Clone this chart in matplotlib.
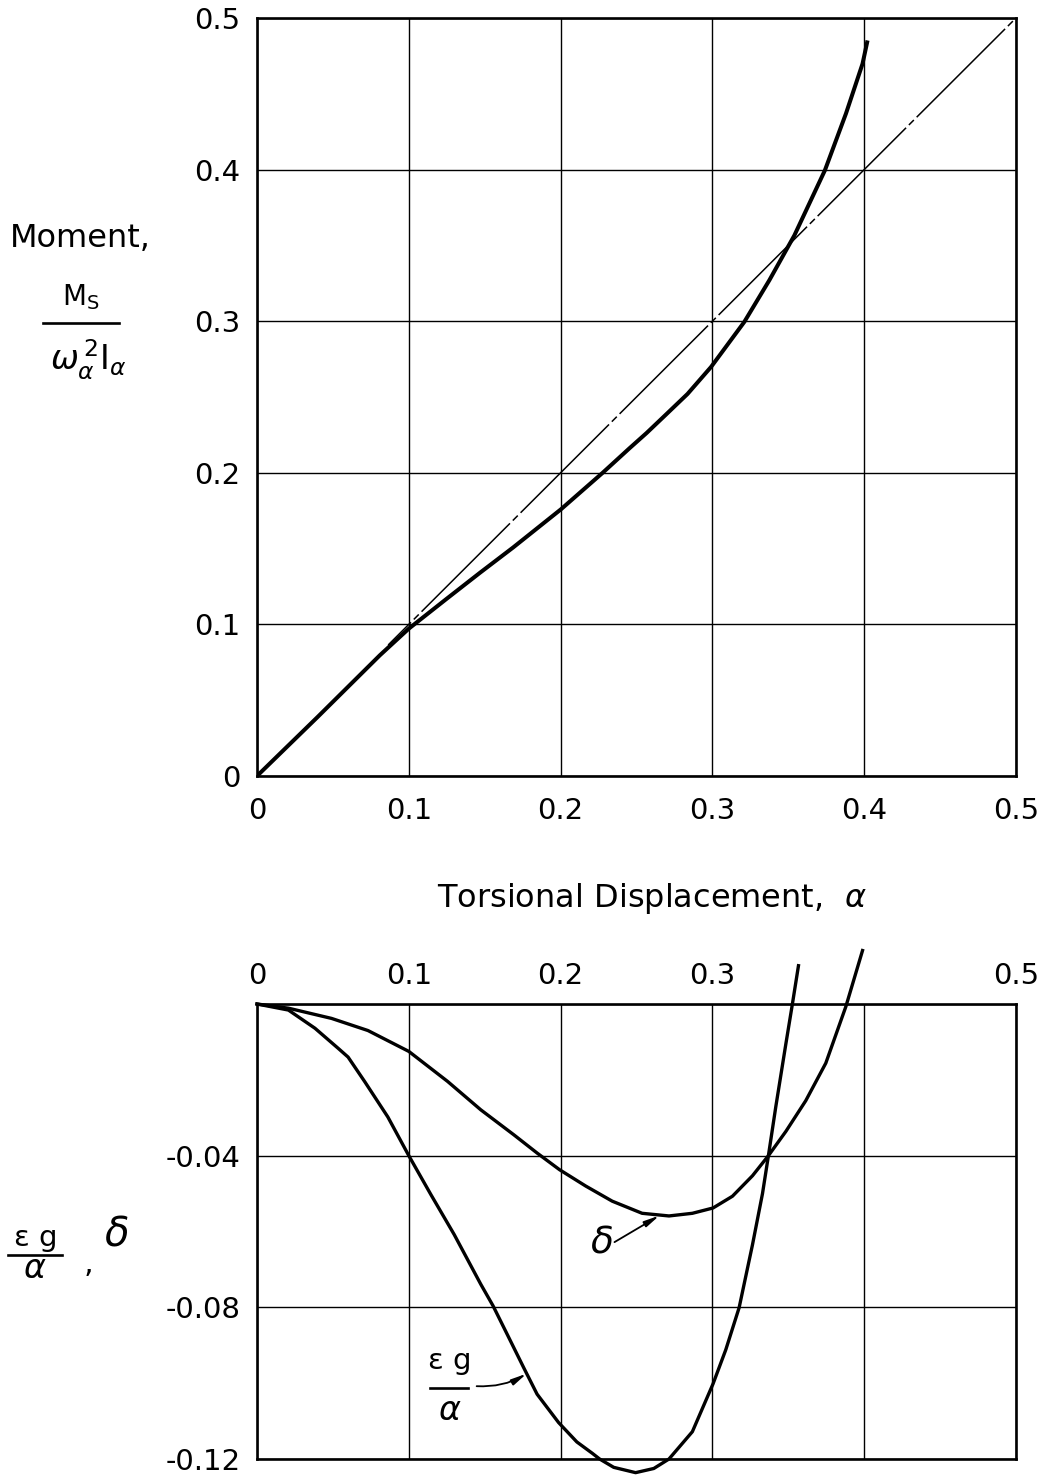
import matplotlib
matplotlib.use('Agg')
import matplotlib.pyplot as plt
from matplotlib.lines import Line2D

plt.rcParams['font.family'] = ['DejaVu Sans']
plt.rcParams['mathtext.fontset'] = 'dejavusans'

# ---------------- data ----------------
moment_x = [0.0, 0.04, 0.0809, 0.1, 0.1248, 0.1468, 0.1688, 0.2002, 0.2277,
            0.2454, 0.2567, 0.2695, 0.2836, 0.2991, 0.321, 0.3375, 0.354,
            0.3741, 0.388, 0.3989, 0.4022]
moment_y = [0.0, 0.039, 0.0796, 0.0972, 0.1168, 0.134, 0.1508, 0.1759, 0.2,
            0.2162, 0.2263, 0.2385, 0.252, 0.2698, 0.2995, 0.327, 0.3566,
            0.3995, 0.437, 0.4698, 0.4852]
linear_x = [0.0864, 0.5]
linear_y = [0.0864, 0.5]

delta_x = [0.0, 0.0207, 0.0491, 0.0731, 0.1, 0.1255, 0.1474, 0.1692, 0.1845,
           0.1993, 0.2165, 0.234, 0.2537, 0.2714, 0.2868, 0.3004, 0.3132,
           0.3264, 0.3369, 0.3484, 0.3615, 0.3747, 0.3879, 0.3989]
delta_y = [0.0, -0.0011, -0.0038, -0.007, -0.0125, -0.0204, -0.0279, -0.0345,
           -0.0393, -0.0437, -0.048, -0.052, -0.0552, -0.0559, -0.0552, -0.0538,
           -0.0507, -0.0453, -0.04, -0.0336, -0.0255, -0.0156, -0.0007, 0.0141]

eg_x = [0.0, 0.0207, 0.0382, 0.0535, 0.060, 0.071, 0.0862, 0.1, 0.1146,
        0.1299, 0.1474, 0.1555, 0.1648, 0.1758, 0.1845, 0.1987, 0.2107,
        0.2209, 0.2257, 0.235, 0.2494, 0.2614, 0.2714, 0.2868, 0.3004,
        0.3088, 0.3176, 0.3264, 0.333, 0.3369, 0.3418, 0.3484, 0.3527, 0.3567]
eg_y = [0.0, -0.0016, -0.0064, -0.0117, -0.014, -0.0205, -0.0298, -0.04,
        -0.0503, -0.0608, -0.0739, -0.0796, -0.0871, -0.096, -0.1029,
        -0.1104, -0.1155, -0.1185, -0.12, -0.1222, -0.1236, -0.1225, -0.12,
        -0.1128, -0.1002, -0.0912, -0.0801, -0.0635, -0.05, -0.04, -0.027,
        -0.0105, 0.0, 0.0101]

top_ticks = [0.0, 0.1, 0.2, 0.3, 0.4, 0.5]
top_labels = ['0', '0.1', '0.2', '0.3', '0.4', '0.5']
bot_xticks = [0.0, 0.1, 0.2, 0.3, 0.4, 0.5]
bot_xlabels = ['0', '0.1', '0.2', '0.3', '', '0.5']
bot_yticks = [-0.12, -0.08, -0.04, 0.0]
bot_ylabels = ['-0.12', '-0.08', '-0.04', '']

# ---------------- figure ----------------
W, H = 1047, 1477
fig = plt.figure(figsize=(W / 100, H / 100), dpi=100)


def fx(p):
    return p / W


def fy(p):
    return 1 - p / H


ax1 = fig.add_axes([fx(257), fy(776), fx(1016) - fx(257), fy(18) - fy(776)])
ax2 = fig.add_axes([fx(257), fy(1459), fx(1016) - fx(257), fy(1004) - fy(1459)])

for ax in (ax1, ax2):
    ax.set_axisbelow(True)
    ax.grid(True, color='black', lw=1.0)
    for s in ax.spines.values():
        s.set_linewidth(1.9)
        s.set_color('black')

# top panel
ax1.set_xlim(0, 0.5)
ax1.set_ylim(0, 0.5)
ax1.set_xticks(top_ticks)
ax1.set_xticklabels(top_labels)
ax1.set_yticks(top_ticks)
ax1.set_yticklabels(top_labels)
ax1.tick_params(axis='x', length=0, labelsize=21, pad=15)
ax1.tick_params(axis='y', length=0, labelsize=21, pad=12)

ax1.plot(moment_x, moment_y, color='black', lw=2.9, solid_capstyle='butt',
         solid_joinstyle='round', zorder=3)
ax1.plot(linear_x, linear_y, color='black', lw=1.1, zorder=3,
         linestyle=(60.7, (81.8, 2.6, 4.6, 2.6)))

# bottom panel
ax2.set_xlim(0, 0.5)
ax2.set_ylim(-0.12, 0)
ax2.xaxis.tick_top()
ax2.set_xticks(bot_xticks)
ax2.set_xticklabels(bot_xlabels)
ax2.set_yticks(bot_yticks)
ax2.set_yticklabels(bot_ylabels)
ax2.tick_params(axis='x', length=0, labelsize=21, pad=10)
ax2.tick_params(axis='y', length=0, labelsize=21, pad=12)

ax2.plot(delta_x, delta_y, color='black', lw=2.4, clip_on=False, zorder=3,
         solid_joinstyle='round')
ax2.plot(eg_x, eg_y, color='black', lw=2.4, clip_on=False, zorder=3,
         solid_joinstyle='round')

# in-plot annotations
ax2.text(0.227, -0.0628, r'$\delta$', fontsize=27, ha='center', va='center')
ax2.annotate('', xy=(0.2651, -0.0558), xytext=(0.2355, -0.0628),
             arrowprops=dict(arrowstyle='-|>,head_length=0.9,head_width=0.18',
                             color='black', lw=1.3, shrinkA=0, shrinkB=0))
ax2.text(0.1268, -0.0962, 'ε g', fontsize=21, ha='center', va='baseline')
ax2.add_line(Line2D([0.1137, 0.1388], [-0.1012, -0.1012], color='black', lw=1.9))
ax2.text(0.1268, -0.1098, r'$\alpha$', fontsize=24, ha='center', va='baseline')
ax2.annotate('', xy=(0.1776, -0.0975), xytext=(0.1447, -0.1008),
             arrowprops=dict(arrowstyle='-|>,head_length=0.9,head_width=0.18',
                             color='black', lw=1.3, shrinkA=0, shrinkB=0,
                             connectionstyle='arc3,rad=0.15'))

# axis labels
fig.text(fx(10), fy(247), 'Moment,', fontsize=23, ha='left', va='baseline')
fig.text(fx(81), fy(305), r'$\mathrm{M_S}$', fontsize=20, ha='center', va='baseline')
fig.add_artist(Line2D([fx(43), fx(119)], [fy(323), fy(323)], color='black', lw=1.9))
fig.text(fx(88), fy(370), r'$\omega_\alpha^{\,2}\mathrm{I}_\alpha$', fontsize=24,
         ha='center', va='baseline')

fig.text(fx(437), fy(907), r'Torsional Displacement,  $\alpha$', fontsize=23,
         ha='left', va='baseline')

fig.text(fx(36), fy(1246), 'ε g', fontsize=21, ha='center', va='baseline')
fig.add_artist(Line2D([fx(8), fx(62)], [fy(1255), fy(1255)], color='black', lw=1.9))
fig.text(fx(35), fy(1278), r'$\alpha$', fontsize=24, ha='center', va='baseline')
fig.text(fx(88), fy(1272), ',', fontsize=22, ha='center', va='baseline')
fig.text(fx(116), fy(1234), r'$\delta$', fontsize=29, ha='center', va='center')

fig.savefig('out.png', dpi=100)
